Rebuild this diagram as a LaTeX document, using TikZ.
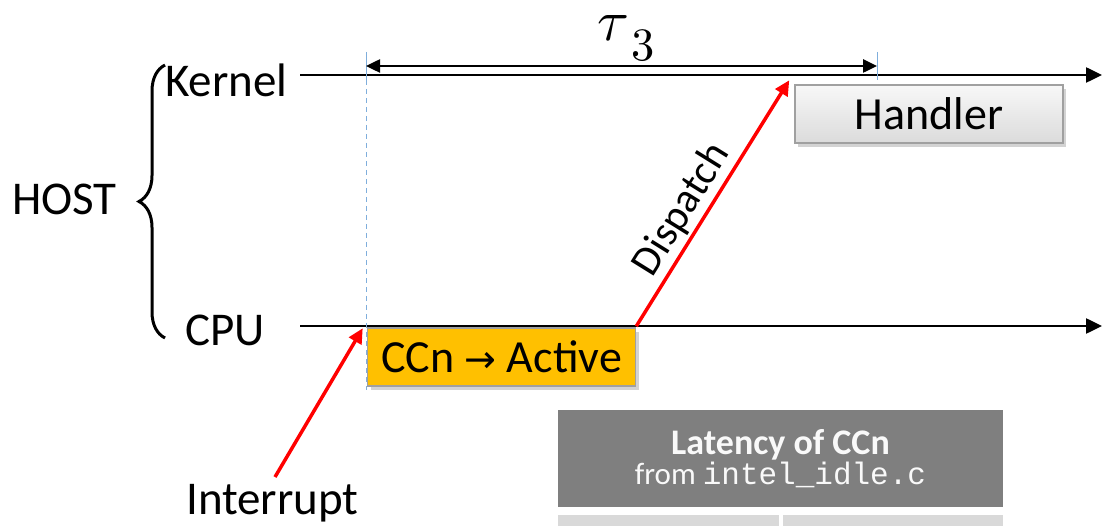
\documentclass[tikz,border=0pt]{standalone}
\usepackage{fontspec}
\setmainfont{Carlito}
\newfontfamily\codefont{Liberation Mono}
\newfontfamily\symfont{DejaVu Sans}
\usetikzlibrary{arrows.meta,shadows,decorations.pathreplacing}
\definecolor{ccorange}{HTML}{FFC000}
\definecolor{guideblue}{HTML}{7FAEDC}
\definecolor{hdrgray}{HTML}{7F7F7F}
\definecolor{cellgray}{HTML}{D9D9D9}
\definecolor{boxborder}{HTML}{A0A0A0}
\begin{document}
\begin{tikzpicture}[x=1pt,y=-1pt,
  lbl/.style={font=\fontsize{47}{50}\selectfont, inner sep=0pt},
  timeline/.style={line width=2.5pt, -{Triangle[length=16pt,width=15pt]}},
  redarrow/.style={red, line width=3.5pt, -{Triangle[length=15pt,width=14pt]}},
  dimarrow/.style={line width=2.5pt, {Triangle[length=14pt,width=13pt]}-{Triangle[length=14pt,width=13pt]}},
  guide/.style={guideblue, line width=1pt},
  evbox/.style={draw=boxborder, line width=1.5pt, minimum width=268pt, minimum height=58pt,
     font=\fontsize{46}{50}\selectfont, inner sep=0pt,
     drop shadow={opacity=0.35, shadow xshift=3pt, shadow yshift=-4pt}},
]
\useasboundingbox (0,0) rectangle (1102,526);

% labels
\node[lbl, anchor=base west] (kernel) at (165,97) {Kernel};
\node[lbl, anchor=base west] (cpu) at (185,345) {CPU};
\node[lbl, anchor=base west] (host) at (12,215) {HOST};
\node[lbl, anchor=base west] (interrupt) at (186,514) {Interrupt};

% brace
\draw[line width=3pt, decorate, decoration={brace, amplitude=26pt}] (165,338) -- (165,65);

% timelines
\coordinate (kstart) at (300,75);
\coordinate (kend) at (1102,75);
\coordinate (cstart) at (300,326);
\coordinate (cend) at (1102,326);
\draw[timeline] (kstart) -- (kend);
\draw[timeline] (cstart) -- (cend);

% guides
\coordinate (gl1) at (366,52);
\coordinate (gl2) at (366,80);
\coordinate (gl3) at (366,390);
\coordinate (gr1) at (877,52);
\coordinate (gr2) at (877,80);
\draw[guide] (gl1) -- (gl2);
\draw[guide, dash pattern=on 5pt off 4pt] (gl2) -- (gl3);
\draw[guide] (gr1) -- (gr2);

% tau dimension
\coordinate (dl) at (366,66);
\coordinate (dr) at (877,66);
\draw[dimarrow] (dl) -- (dr);
\node[scale=5.8, inner sep=0pt] (tau) at (626,38) {$\tau$\kern0.3pt\raisebox{-3.6pt}{\scalebox{0.8}{$3$}}};

% boxes
\node[evbox, top color=gray!6, bottom color=gray!28] (handler) at (929,114) {Handler};
\node[evbox, fill=ccorange] (ccn) at (501.5,357) {CCn {\symfont\fontsize{38}{40}\selectfont →} Active};

% red arrows
\coordinate (intstart) at (275,477);
\draw[redarrow] (intstart) -- ([xshift=-4pt,yshift=-1pt]ccn.north west);
\draw[redarrow]
  ([yshift=1pt]ccn.north east) -- node[pos=0.425, above=3pt, sloped, black, font=\fontsize{42}{44}\selectfont, inner sep=0pt] (dispatch) {Dispatch}
  ([xshift=-5pt,yshift=4pt]handler.north west);

% table
\node[fill=hdrgray, text=white!95!gray, minimum width=445pt, minimum height=97pt, inner sep=0pt, align=center] (hdr) at (780.5,458.5)
  {{\fontsize{36}{37}\selectfont\bfseries Latency of CCn}\\[1pt]{\fontsize{31}{32}\selectfont from {\codefont intel\_idle.c}}};
\fill[cellgray] (558,515) rectangle (779,530);
\fill[cellgray] (783,515) rectangle (1003,530);
\end{tikzpicture}
\end{document}
